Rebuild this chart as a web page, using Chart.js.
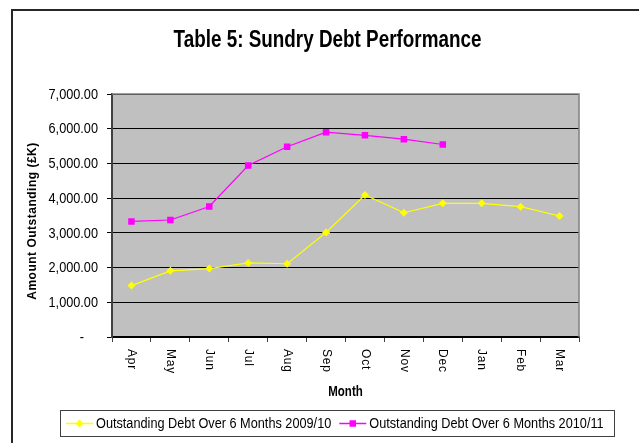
<!DOCTYPE html>
<html>
<head>
<meta charset="utf-8">
<title>Table 5: Sundry Debt Performance</title>
<script src="https://cdn.jsdelivr.net/npm/chart.js@4.4.0/dist/chart.umd.min.js"></script>
<style>
  html, body { margin: 0; padding: 0; background: #fff; }
  #wrap { width: 639px; height: 443px; }
</style>
</head>
<body>
<div id="wrap"><canvas id="chart" width="639" height="443"></canvas></div>
<script>
// data
const months = ['Apr', 'May', 'Jun', 'Jul', 'Aug', 'Sep', 'Oct', 'Nov', 'Dec', 'Jan', 'Feb', 'Mar'];
const debt0910 = [1480, 1905, 1970, 2135, 2110, 3010, 4090, 3580, 3850, 3850, 3755, 3485];
const debt1011 = [3330, 3370, 3760, 4940, 5480, 5900, 5810, 5700, 5545, null, null, null];
const seriesLabels = ['Outstanding Debt Over 6 Months 2009/10', 'Outstanding Debt Over 6 Months 2010/11'];
const yMin = 0;
const yMax = 7000;
const yStep = 1000;

const chartTitle = 'Table 5: Sundry Debt Performance';
const yTitle = 'Amount Outstanding (£K)';
const xTitle = 'Month';

const SANS = "'Liberation Sans', Arial, sans-serif";
// the original text is squeezed sideways, like Arial Narrow
const SQUEEZE = 0.82;

function formatAmount(v) {
  // excel accounting style: zero shows as a dash
  if (v === 0) return '-    ';
  return v.toLocaleString('en-GB', { minimumFractionDigits: 2, maximumFractionDigits: 2 });
}

function narrowText(ctx, text, x, y, font, align, baseline) {
  ctx.save();
  ctx.translate(x, y);
  ctx.scale(SQUEEZE, 1);
  ctx.font = font;
  ctx.textAlign = align;
  ctx.textBaseline = baseline;
  ctx.fillText(text, 0, 0);
  const w = ctx.measureText(text).width * SQUEEZE;
  ctx.restore();
  return w;
}

function drawMarker(ctx, style, x, y, r, color) {
  ctx.save();
  ctx.fillStyle = color;
  ctx.beginPath();
  if (style === 'rectRot') {
    ctx.moveTo(x, y - r);
    ctx.lineTo(x + r, y);
    ctx.lineTo(x, y + r);
    ctx.lineTo(x - r, y);
    ctx.closePath();
  } else {
    const s = r * Math.SQRT1_2;
    ctx.rect(x - s, y - s, s * 2, s * 2);
  }
  ctx.fill();
  ctx.restore();
}

// frame, plot background, all text and the boxed legend
const sheetPlugin = {
  id: 'sheet',
  beforeDraw(chart) {
    const { ctx, chartArea: a } = chart;
    ctx.save();
    ctx.fillStyle = '#fff';
    ctx.fillRect(0, 0, chart.width, chart.height);
    ctx.strokeStyle = '#262626';
    ctx.lineWidth = 2;
    ctx.strokeRect(12, 10, 700, 600);
    ctx.fillStyle = '#C0C0C0';
    ctx.fillRect(a.left, a.top, a.right - a.left, a.bottom - a.top);
    ctx.restore();
  },
  beforeDatasetsDraw(chart) {
    const { ctx, chartArea: a } = chart;
    ctx.save();
    ctx.strokeStyle = '#808080';
    ctx.lineWidth = 1.5;
    ctx.beginPath();
    ctx.moveTo(a.left, a.top);
    ctx.lineTo(a.right, a.top);
    ctx.lineTo(a.right, a.bottom);
    ctx.stroke();
    ctx.restore();
  },
  afterDraw(chart) {
    const { ctx, chartArea: a } = chart;
    const xs = chart.scales.x;
    const ys = chart.scales.y;

    ctx.save();
    ctx.fillStyle = '#000';

    // title
    narrowText(ctx, chartTitle, 327.5, 46.5, "bold 23px " + SANS, 'center', 'alphabetic');

    // y tick labels
    ys.ticks.forEach(t => {
      const y = ys.getPixelForValue(t.value);
      narrowText(ctx, formatAmount(t.value), 98, y + 0.5, "15.5px " + SANS, 'right', 'middle');
    });

    // y axis title
    ctx.save();
    ctx.translate(33, 221);
    ctx.rotate(-Math.PI / 2);
    ctx.font = "bold 12px " + SANS;
    ctx.letterSpacing = '0.5px';
    ctx.textAlign = 'center';
    ctx.textBaseline = 'middle';
    ctx.fillText(yTitle, 0, 0);
    ctx.restore();

    // month labels, rotated clockwise
    ctx.font = "12px " + SANS;
    ctx.letterSpacing = '0.8px';
    ctx.textAlign = 'left';
    ctx.textBaseline = 'middle';
    months.forEach((m, i) => {
      const x = xs.getPixelForValue(i);
      ctx.save();
      ctx.translate(x, 349);
      ctx.rotate(Math.PI / 2);
      ctx.fillText(m, 0, 0);
      ctx.restore();
    });
    ctx.letterSpacing = '0px';

    // x axis title
    narrowText(ctx, xTitle, (a.left + a.right) / 2, 392, "bold 14px " + SANS, 'center', 'middle');

    // legend
    const ly = 423.5;
    ctx.strokeStyle = '#404040';
    ctx.lineWidth = 1;
    ctx.strokeRect(60.5, 410.5, 554, 26);
    let lx = 66;
    chart.data.datasets.forEach(ds => {
      ctx.strokeStyle = ds.borderColor;
      ctx.lineWidth = 1.5;
      ctx.beginPath();
      ctx.moveTo(lx, ly);
      ctx.lineTo(lx + 27, ly);
      ctx.stroke();
      drawMarker(ctx, ds.pointStyle, lx + 13.5, ly, ds.pointRadius, ds.backgroundColor);
      ctx.fillStyle = '#000';
      const w = narrowText(ctx, ds.label, lx + 30, ly, "15.5px " + SANS, 'left', 'middle');
      lx = lx + 30 + w + 8;
    });
    ctx.restore();
  }
};

const ctx = document.getElementById('chart').getContext('2d');
const chart = new Chart(ctx, {
  type: 'line',
  data: {
    labels: months,
    datasets: [
      {
        label: seriesLabels[0],
        data: debt0910,
        borderColor: '#FFFF00',
        backgroundColor: '#FFFF00',
        borderWidth: 1.2,
        pointStyle: 'rectRot',
        pointRadius: 4,
        pointBorderWidth: 0,
        tension: 0
      },
      {
        label: seriesLabels[1],
        data: debt1011,
        borderColor: '#FF00FF',
        backgroundColor: '#FF00FF',
        borderWidth: 1.2,
        pointStyle: 'rect',
        pointRadius: 4.6,
        pointBorderWidth: 0,
        tension: 0,
        spanGaps: false
      }
    ]
  },
  options: {
    responsive: false,
    animation: false,
    layout: { padding: { top: 94, left: 0, right: 60, bottom: 43 } },
    plugins: {
      legend: { display: false },
      title: { display: false },
      tooltip: { enabled: false }
    },
    scales: {
      x: {
        offset: true,
        grid: { offset: true, drawOnChartArea: false, tickLength: 5, color: '#404040' },
        border: { color: '#000', width: 1.5 },
        ticks: { display: false },
        title: { display: false },
        afterFit(scale) { scale.height = 63; }
      },
      y: {
        min: yMin,
        max: yMax,
        ticks: { stepSize: yStep, display: false },
        grid: { color: '#000', lineWidth: 1, tickLength: 5 },
        border: { color: '#404040', width: 2 },
        afterFit(scale) { scale.width = 112; }
      }
    }
  },
  plugins: [sheetPlugin]
});
</script>
</body>
</html>
